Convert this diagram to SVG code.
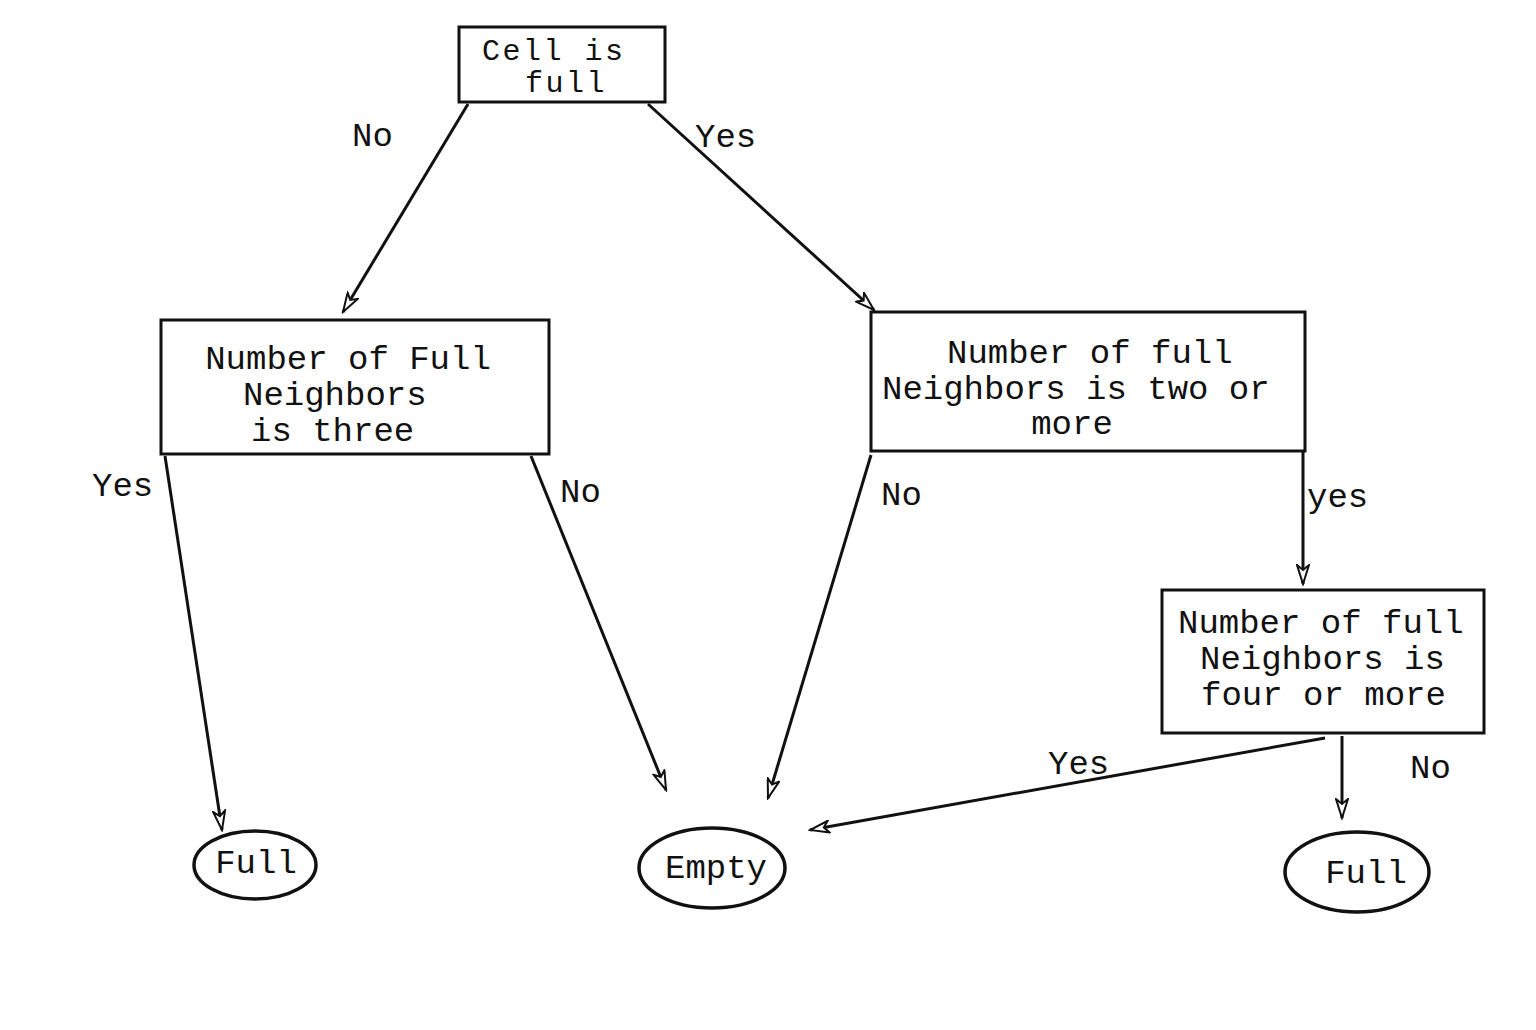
<svg xmlns="http://www.w3.org/2000/svg" width="1536" height="1030" viewBox="0 0 1536 1030">
<style>
.box{fill:#fff;stroke:#111;stroke-width:3}
.ell{fill:#fff;stroke:#111;stroke-width:3.5}
.t{font-family:"Liberation Mono","Courier New",monospace;font-size:34px;fill:#111}
.s{font-size:30px;letter-spacing:2.5px}
.c{stroke:#111;stroke-width:3;fill:none;marker-end:url(#ah)}
</style>
<defs>
<marker id="ah" markerUnits="userSpaceOnUse" markerWidth="22" markerHeight="14" refX="20" refY="7" orient="auto">
<path d="M1,1 L20,7 L1,13 L6,7 Z" fill="#fff" stroke="#111" stroke-width="2"/>
</marker>
</defs>
<rect width="1536" height="1030" fill="#fff"/>
<g id="connectors">
<line class="c" x1="468" y1="104" x2="343" y2="312"/>
<line class="c" x1="648" y1="104" x2="874" y2="310"/>
<line class="c" x1="165" y1="456" x2="222" y2="830"/>
<line class="c" x1="531" y1="456" x2="666" y2="790"/>
<line class="c" x1="871" y1="455" x2="768" y2="798"/>
<line class="c" x1="1303" y1="452" x2="1303" y2="584"/>
<line class="c" x1="1325" y1="738" x2="810" y2="830"/>
<line class="c" x1="1342" y1="736" x2="1342" y2="818"/>
<text class="t" x="352" y="146">No</text>
<text class="t" x="695" y="147">Yes</text>
<text class="t" x="92" y="496">Yes</text>
<text class="t" x="560" y="502">No</text>
<text class="t" x="881" y="505">No</text>
<text class="t" x="1307" y="507">yes</text>
<text class="t" x="1048" y="774">Yes</text>
<text class="t" x="1410" y="778">No</text>
</g>
<g id="n1">
<rect class="box" x="459" y="27" width="206" height="75"/>
<text class="t s" x="482" y="60">Cell is</text>
<text class="t s" x="525" y="92">full</text>
</g>
<g id="n2">
<rect class="box" x="161" y="320" width="388" height="134"/>
<text class="t" x="348" y="369" text-anchor="middle">Number of Full</text>
<text class="t" x="243" y="405">Neighbors</text>
<text class="t" x="251" y="441">is three</text>
</g>
<g id="n3">
<rect class="box" x="871" y="312" width="434" height="139"/>
<text class="t" x="947" y="363">Number of full</text>
<text class="t" x="882" y="399">Neighbors is two or</text>
<text class="t" x="1072" y="434" text-anchor="middle">more</text>
</g>
<g id="n4">
<rect class="box" x="1162" y="590" width="322" height="143"/>
<text class="t" x="1178" y="633">Number of full</text>
<text class="t" x="1200" y="669">Neighbors is</text>
<text class="t" x="1201" y="705">four or more</text>
</g>
<g id="n5">
<ellipse class="ell" cx="255" cy="865" rx="61" ry="34"/>
<text class="t" x="256" y="873" text-anchor="middle">Full</text>
</g>
<g id="n6">
<ellipse class="ell" cx="712" cy="868" rx="73" ry="40"/>
<text class="t" x="716" y="878" text-anchor="middle">Empty</text>
</g>
<g id="n7">
<ellipse class="ell" cx="1357" cy="872" rx="72" ry="40"/>
<text class="t" x="1366" y="883" text-anchor="middle">Full</text>
</g>
</svg>
